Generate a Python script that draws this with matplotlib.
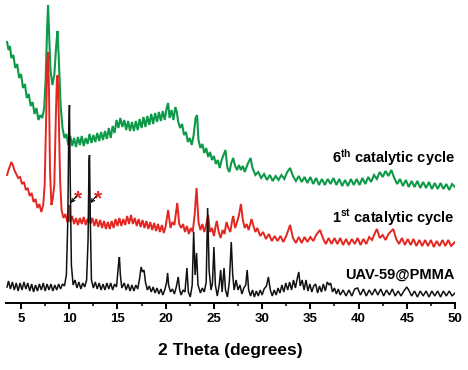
import matplotlib
matplotlib.use("Agg")
import matplotlib.pyplot as plt
import numpy as np
from matplotlib.ticker import MultipleLocator

plt.rcParams['font.family'] = ['Liberation Sans', 'DejaVu Sans']
plt.rcParams['font.weight'] = 'bold'
plt.rcParams['mathtext.fontset'] = 'custom'
plt.rcParams['mathtext.rm'] = 'Liberation Sans:bold'
plt.rcParams['mathtext.bf'] = 'Liberation Sans:bold'
plt.rcParams['mathtext.it'] = 'Liberation Sans:bold'

# 6th catalytic cycle (green)
x6 = [3.55, 3.7, 3.85, 4.0, 4.2, 4.4, 4.6, 4.8, 5.0, 5.2, 5.4, 5.6, 5.8, 6.0, 6.2, 6.4,
      6.6, 6.8, 7.0, 7.2, 7.4, 7.55, 7.7, 7.8, 7.9, 8.05, 8.25, 8.45, 8.65, 8.78, 8.9,
      9.1, 9.3, 9.5, 9.7, 9.9, 10.1, 10.3, 10.5, 10.7, 10.9, 11.1, 11.3, 11.5, 11.7,
      11.9, 12.1, 12.3, 12.5, 12.7, 12.9, 13.1, 13.3, 13.5, 13.7, 13.9, 14.1, 14.3,
      14.5, 14.7, 14.9, 15.1, 15.3, 15.5, 15.7, 15.9, 16.1, 16.3, 16.5, 16.7, 16.9,
      17.1, 17.3, 17.5, 17.7, 17.9, 18.1, 18.3, 18.5, 18.7, 18.9, 19.1, 19.3, 19.5,
      19.7, 19.9, 20.1, 20.25, 20.4, 20.6, 20.8, 21.0, 21.15, 21.3, 21.5, 21.7, 21.9,
      22.1, 22.3, 22.5, 22.7, 22.9, 23.1, 23.25, 23.4, 23.6, 23.8, 24.0, 24.2, 24.4,
      24.6, 24.8, 25.0, 25.2, 25.4, 25.6, 25.8, 26.0, 26.2, 26.4, 26.6, 26.8, 27.0,
      27.2, 27.4, 27.6, 27.8, 28.0, 28.2, 28.5, 28.8, 29.0, 29.3, 29.6, 29.9, 30.2,
      30.5, 30.8, 31.1, 31.4, 31.7, 32.0, 32.3, 32.6, 32.9, 33.2, 33.5, 33.8, 34.1,
      34.4, 34.7, 35.0, 35.3, 35.6, 35.9, 36.2, 36.5, 36.8, 37.1, 37.4, 37.7, 38.0,
      38.3, 38.6, 38.9, 39.2, 39.5, 39.8, 40.1, 40.4, 40.7, 41.0, 41.3, 41.6, 41.9,
      42.2, 42.5, 42.8, 43.1, 43.4, 43.7, 44.0, 44.3, 44.6, 44.9, 45.2, 45.5, 45.8,
      46.1, 46.4, 46.7, 47.0, 47.3, 47.6, 47.9, 48.2, 48.5, 48.8, 49.1, 49.4, 49.7, 50.0]
y6 = [261, 253, 257, 245, 248, 235, 239, 225, 229, 215, 219, 205, 209, 197, 201, 189,
      195, 183, 188, 185, 195, 223, 273, 298, 273, 233, 218, 228, 258, 272, 248,
      198, 175, 165, 169, 158, 167, 157, 165, 156, 166, 158, 167, 157, 165,
      159, 169, 160, 168, 161, 170, 162, 171, 163, 172, 164, 175, 165,
      177, 170, 183, 175, 185, 176, 183, 173, 182, 172, 181, 172, 182,
      173, 184, 175, 186, 176, 187, 178, 189, 179, 190, 181, 191, 182,
      192, 183, 195, 200, 185, 193, 183, 196, 191, 181, 175, 179, 168,
      171, 161, 165, 158, 168, 185, 188, 163, 155, 159, 150, 155, 146,
      151, 143, 147, 139, 143, 135, 143, 148, 153, 135, 131, 140, 145,
      137, 133, 138, 133, 137, 131, 139, 145, 135, 128, 131, 125, 129,
      123, 128, 122, 127, 123, 128, 124, 131, 135, 127, 122, 127, 121,
      126, 120, 126, 119, 125, 118, 124, 118, 124, 119, 125, 118, 124,
      117, 123, 117, 124, 118, 124, 118, 125, 119, 126, 121, 128, 124,
      131, 126, 132, 127, 133, 125, 119, 124, 117, 123, 116, 122, 116,
      122, 115, 121, 115, 121, 114, 120, 114, 120, 114, 119, 113, 119, 116]

# 1st catalytic cycle (red)
x1 = [3.55, 3.7, 3.85, 4.0, 4.15, 4.3, 4.5, 4.7, 4.9, 5.1, 5.3, 5.5, 5.7, 5.9, 6.1, 6.3,
      6.5, 6.7, 6.9, 7.1, 7.3, 7.45, 7.6, 7.72, 7.8, 7.9, 8.0, 8.15, 8.3, 8.45, 8.6,
      8.72, 8.8, 8.9, 9.05, 9.2, 9.4, 9.6, 9.8, 9.9, 10.0, 10.1, 10.3, 10.5, 10.7,
      10.9, 11.1, 11.3, 11.5, 11.7, 11.9, 12.0, 12.1, 12.2, 12.4, 12.6, 12.8, 13.0,
      13.2, 13.4, 13.6, 13.8, 14.0, 14.2, 14.4, 14.6, 14.8, 15.0, 15.2, 15.4, 15.6,
      15.8, 16.0, 16.2, 16.4, 16.6, 16.8, 17.0, 17.2, 17.4, 17.6, 17.8, 18.0, 18.2,
      18.4, 18.6, 18.8, 19.0, 19.2, 19.4, 19.6, 19.8, 20.0, 20.25, 20.5, 20.7, 20.9,
      21.2, 21.4, 21.6, 21.8, 22.0, 22.2, 22.4, 22.6, 22.8, 23.0, 23.2, 23.4, 23.6,
      23.8, 24.0, 24.2, 24.4, 24.6, 24.8, 25.0, 25.2, 25.3, 25.5, 25.7, 25.9, 26.1,
      26.3, 26.5, 26.7, 26.9, 27.0, 27.2, 27.4, 27.6, 27.8, 28.0, 28.2, 28.4, 28.6,
      28.9, 29.1, 29.3, 29.5, 29.8, 30.1, 30.4, 30.7, 31.0, 31.3, 31.6, 31.9, 32.2,
      32.5, 32.9, 33.2, 33.5, 33.8, 34.1, 34.4, 34.7, 35.0, 35.3, 35.6, 36.0, 36.3,
      36.6, 36.9, 37.2, 37.5, 37.8, 38.1, 38.4, 38.7, 39.0, 39.3, 39.6, 39.9, 40.2,
      40.5, 40.8, 41.1, 41.4, 41.7, 41.9, 42.2, 42.5, 42.8, 43.1, 43.4, 43.6, 43.9,
      44.2, 44.5, 44.8, 45.1, 45.4, 45.7, 46.0, 46.3, 46.6, 46.9, 47.2, 47.5, 47.8,
      48.1, 48.4, 48.7, 49.0, 49.3, 49.6, 50.0]
y1 = [128, 133, 137, 141, 138, 133, 129, 125, 126, 119, 121, 113, 115, 107, 110, 101,
      104, 95, 99, 91, 98, 118, 183, 243, 251, 213, 133, 98, 105, 118, 183,
      225, 228, 193, 123, 93, 85, 89, 81, 83, 98, 81, 87, 79, 85,
      78, 85, 79, 86, 78, 84, 81, 98, 79, 85, 77, 84, 76,
      83, 75, 82, 74, 81, 74, 82, 75, 84, 77, 85, 77, 84,
      78, 87, 79, 88, 79, 85, 77, 84, 76, 83, 75, 82, 74,
      81, 73, 80, 72, 79, 71, 78, 70, 77, 93, 75, 81, 78,
      100, 79, 75, 79, 71, 77, 69, 75, 71, 88, 115, 81, 73,
      79, 71, 78, 88, 71, 75, 67, 78, 82, 71, 65, 73, 69,
      81, 75, 71, 83, 87, 75, 81, 88, 99, 83, 75, 79, 73,
      84, 77, 71, 75, 67, 71, 64, 69, 62, 67, 62, 67, 61,
      67, 78, 65, 60, 66, 60, 66, 61, 66, 62, 68, 73, 65,
      59, 65, 59, 65, 59, 65, 58, 64, 58, 64, 59, 65, 58,
      64, 59, 66, 63, 70, 74, 65, 68, 63, 69, 72, 74, 64,
      59, 65, 58, 64, 58, 64, 57, 63, 57, 63, 57, 63, 56,
      62, 57, 63, 57, 63, 57, 61]

# UAV-59@PMMA (black)
x0 = [3.55, 3.7, 3.9, 4.1, 4.3, 4.5, 4.7, 4.9, 5.1, 5.3, 5.5, 5.7, 5.9, 6.1, 6.3, 6.5,
      6.7, 6.9, 7.1, 7.3, 7.5, 7.7, 7.9, 8.1, 8.3, 8.5, 8.7, 8.9, 9.1, 9.3, 9.5, 9.7,
      9.85, 9.95, 10.02, 10.1, 10.22, 10.4, 10.6, 10.8, 11.0, 11.2, 11.4, 11.6, 11.8,
      11.95, 12.05, 12.1, 12.18, 12.3, 12.5, 12.7, 12.9, 13.1, 13.3, 13.5, 13.7, 13.9,
      14.1, 14.3, 14.5, 14.7, 14.9, 15.1, 15.2, 15.3, 15.45, 15.7, 15.9, 16.1, 16.3,
      16.5, 16.7, 16.9, 17.1, 17.3, 17.45, 17.6, 17.75, 17.9, 18.1, 18.3, 18.5, 18.7,
      18.9, 19.1, 19.3, 19.5, 19.7, 19.9, 20.1, 20.2, 20.3, 20.5, 20.7, 20.9, 21.1,
      21.3, 21.45, 21.6, 21.8, 22.0, 22.2, 22.35, 22.55, 22.75, 22.9, 23.05, 23.2,
      23.35, 23.6, 23.8, 24.0, 24.2, 24.35, 24.5, 24.7, 24.85, 25.0, 25.15, 25.35,
      25.55, 25.7, 25.85, 26.05, 26.2, 26.4, 26.6, 26.8, 26.95, 27.1, 27.3, 27.5,
      27.7, 27.9, 28.1, 28.3, 28.45, 28.6, 28.8, 29.0, 29.2, 29.4, 29.6, 29.8, 30.0,
      30.2, 30.45, 30.65, 30.85, 31.05, 31.25, 31.45, 31.65, 31.85, 32.05, 32.25,
      32.45, 32.65, 32.85, 33.05, 33.25, 33.45, 33.65, 33.8, 33.95, 34.15, 34.35,
      34.55, 34.75, 34.95, 35.15, 35.35, 35.55, 35.75, 35.95, 36.15, 36.35, 36.55,
      36.75, 36.95, 37.1, 37.3, 37.5, 37.7, 37.9, 38.1, 38.4, 38.7, 39.0, 39.3, 39.6,
      39.9, 40.2, 40.5, 40.8, 41.1, 41.4, 41.7, 42.0, 42.3, 42.6, 42.9, 43.2, 43.5,
      43.8, 44.1, 44.4, 44.7, 45.0, 45.2, 45.5, 45.8, 46.1, 46.4, 46.7, 47.0, 47.3,
      47.6, 47.9, 48.2, 48.5, 48.8, 49.1, 49.4, 49.7, 50.0]
y0 = [16, 22, 14, 21, 13, 20, 12, 20, 13, 21, 14, 20, 12, 19, 11, 18,
      12, 19, 13, 20, 12, 19, 13, 19, 12, 18, 13, 19, 14, 19, 17, 28,
      83, 173, 198, 123, 38, 18, 23, 15, 21, 14, 20, 16, 23,
      63, 143, 148, 83, 23, 15, 21, 14, 20, 13, 19, 13, 20,
      14, 20, 13, 19, 16, 38, 46, 28, 15, 20, 13, 19, 12,
      18, 12, 18, 14, 25, 36, 31, 33, 21, 13, 17, 11, 16,
      10, 15, 9, 14, 8, 13, 21, 30, 18, 11, 14, 9, 16,
      26, 13, 8, 13, 11, 35, 11, 6, 18, 71, 28, 50,
      18, 10, 15, 11, 21, 95, 33, 13, 20, 56, 18, 7,
      18, 33, 11, 35, 13, 6, 21, 61, 28, 13, 23, 13,
      18, 9, 15, 18, 33, 13, 7, 13, 6, 12, 7, 13, 8,
      14, 17, 26, 13, 7, 13, 8, 15, 10, 18, 11,
      20, 13, 21, 13, 23, 15, 25, 31, 17, 23, 13,
      23, 12, 19, 11, 17, 19, 10, 17, 11, 19, 12,
      21, 18, 20, 11, 15, 9, 14, 8, 13, 7, 13, 7, 14,
      15, 8, 14, 7, 13, 8, 14, 8, 14, 7, 13, 8, 14,
      7, 12, 7, 12, 16, 13, 7, 12, 6, 12, 7, 12, 6,
      12, 7, 12, 6, 12, 7, 12, 7, 10]

series = [(x6, y6, '#0d9a48', 1.5), (x1, y1, '#e3261f', 1.4), (x0, y0, '#111111', 1.1)]
labels = [r'6$^{\mathrm{th}}$ catalytic cycle', r'1$^{\mathrm{st}}$ catalytic cycle', 'UAV-59@PMMA']
label_y = [140, 80, 24]
star_x = [10.75, 12.8]

fig = plt.figure(figsize=(4.68, 3.70), dpi=100)
ax = fig.add_axes([6 / 468, 67 / 370, 449 / 468, 303 / 370])

for xs, ys, c, w in series:
    ax.plot(xs, ys, color=c, lw=w, solid_joinstyle='miter')

for lab, ly in zip(labels, label_y):
    ax.text(50, ly, lab, ha='right', va='baseline', fontsize=10.5, fontweight='bold')

# red asterisks and arrows marking the extra peaks
for sx in star_x:
    ax.text(sx + 0.15, 104, '*', color='#e3261f', fontsize=15, fontweight='bold',
            ha='center', va='center')
    ax.annotate('', xy=(sx - 0.6, 100), xytext=(sx, 107),
                arrowprops=dict(arrowstyle='->', color='black', lw=0.8,
                                shrinkA=0, shrinkB=0, mutation_scale=6))

ax.set_xlim(3.44, 50)
ax.set_ylim(0, 303)
for s in ['top', 'right', 'left']:
    ax.spines[s].set_visible(False)
ax.spines['bottom'].set_linewidth(1.4)
ax.set_yticks([])
ax.xaxis.set_major_locator(MultipleLocator(5))
ax.xaxis.set_minor_locator(MultipleLocator(2.5))
ax.tick_params(axis='x', which='major', length=4, width=1.4, labelsize=9.5, pad=3)
ax.tick_params(axis='x', which='minor', length=2.5, width=1.1)
for t in ax.get_xticklabels():
    t.set_fontweight('bold')
ax.set_xlabel('2 Theta (degrees)', fontsize=12.5, fontweight='bold', labelpad=13)

fig.savefig('out.png', dpi=100)
